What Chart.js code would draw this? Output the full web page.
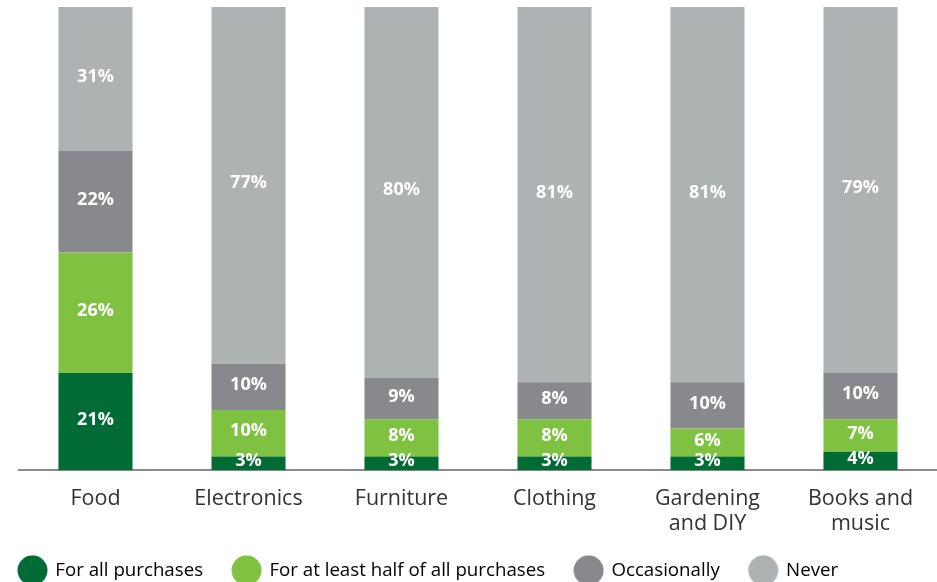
<!DOCTYPE html>
<html>
<head>
<meta charset="utf-8">
<script src="https://cdn.jsdelivr.net/npm/chart.js@4.4.1/dist/chart.umd.min.js"></script>
<style>
  html, body { margin: 0; padding: 0; background: #fff; }
  canvas { display: block; }
</style>
</head>
<body>
<canvas id="graph" width="937" height="582"></canvas>
<script>
const categories = ['Food', 'Electronics', 'Furniture', 'Clothing', ['Gardening', 'and DIY'], ['Books and', 'music']];
const seriesNames = ['For all purchases', 'For at least half of all purchases', 'Occasionally', 'Never'];
const allPurchases = [21, 3, 3, 3, 3, 4];
const halfPurchases = [26, 10, 8, 8, 6, 7];
const occasionally = [22, 10, 9, 8, 10, 10];
const never = [31, 77, 80, 81, 81, 79];
const couleurs = ['#006b35', '#7fc241', '#87898d', '#afb2b3'];

const legendPadding = 30;

// petit disque pour la légende
function disque(col) {
    const c = document.createElement('canvas');
    c.width = 31; c.height = 31;
    const g = c.getContext('2d');
    g.fillStyle = col;
    g.beginPath();
    g.arc(15.5, 15.5, 15, 0, Math.PI * 2);
    g.fill();
    return c;
}

// écrit la valeur au milieu de chaque segment
const etiquettes = {
    id: 'etiquettes',
    afterDatasetsDraw(chart) {
        const ctx = chart.ctx;
        ctx.save();
        ctx.fillStyle = '#ffffff';
        ctx.font = 'bold 18px "Open Sans"';
        ctx.textAlign = 'center';
        ctx.textBaseline = 'middle';
        chart.data.datasets.forEach((ds, i) => {
            chart.getDatasetMeta(i).data.forEach((bar, j) => {
                const y = (bar.y + bar.base) / 2;
                ctx.fillText(ds.data[j] + '%', bar.x, y - 2);
            });
        });
        ctx.restore();
    }
};

// place la légende en bas à gauche
const placeLegende = {
    id: 'placeLegende',
    afterLayout(chart) {
        chart.legend.left = 19 - legendPadding;
        chart.legend.top = 531;
    }
};

const series = [allPurchases, halfPurchases, occasionally, never];

new Chart(document.getElementById('graph'), {
    type: 'bar',
    data: {
        labels: categories,
        datasets: series.map((d, i) => ({
            label: seriesNames[i],
            data: d,
            backgroundColor: couleurs[i],
            borderWidth: 0,
            categoryPercentage: 1,
            barPercentage: 0.484
        }))
    },
    options: {
        responsive: false,
        animation: false,
        layout: { padding: { top: 7, left: 19, right: 0, bottom: -17 } },
        plugins: {
            tooltip: { enabled: false },
            legend: {
                position: 'bottom',
                align: 'start',
                labels: {
                    usePointStyle: true,
                    pointStyleWidth: 27,
                    padding: legendPadding,
                    color: '#333333',
                    font: { family: '"Open Sans"', size: 18.7 },
                    generateLabels(chart) {
                        return chart.data.datasets.map((ds, i) => ({
                            text: ds.label,
                            fillStyle: couleurs[i],
                            strokeStyle: couleurs[i],
                            lineWidth: 0,
                            pointStyle: disque(couleurs[i]),
                            datasetIndex: i
                        }));
                    }
                }
            }
        },
        scales: {
            x: {
                stacked: true,
                grid: { display: false },
                border: { display: true, color: '#8a8a8a', width: 2 },
                ticks: {
                    color: '#333333',
                    padding: 8,
                    maxRotation: 0,
                    font: { family: '"Open Sans"', size: 21.5, lineHeight: 1.17 }
                },
                afterFit(scale) { scale.height = 70; }
            },
            y: {
                stacked: true,
                display: false,
                min: 0,
                max: 100
            }
        }
    },
    plugins: [etiquettes, placeLegende]
});
</script>
</body>
</html>
